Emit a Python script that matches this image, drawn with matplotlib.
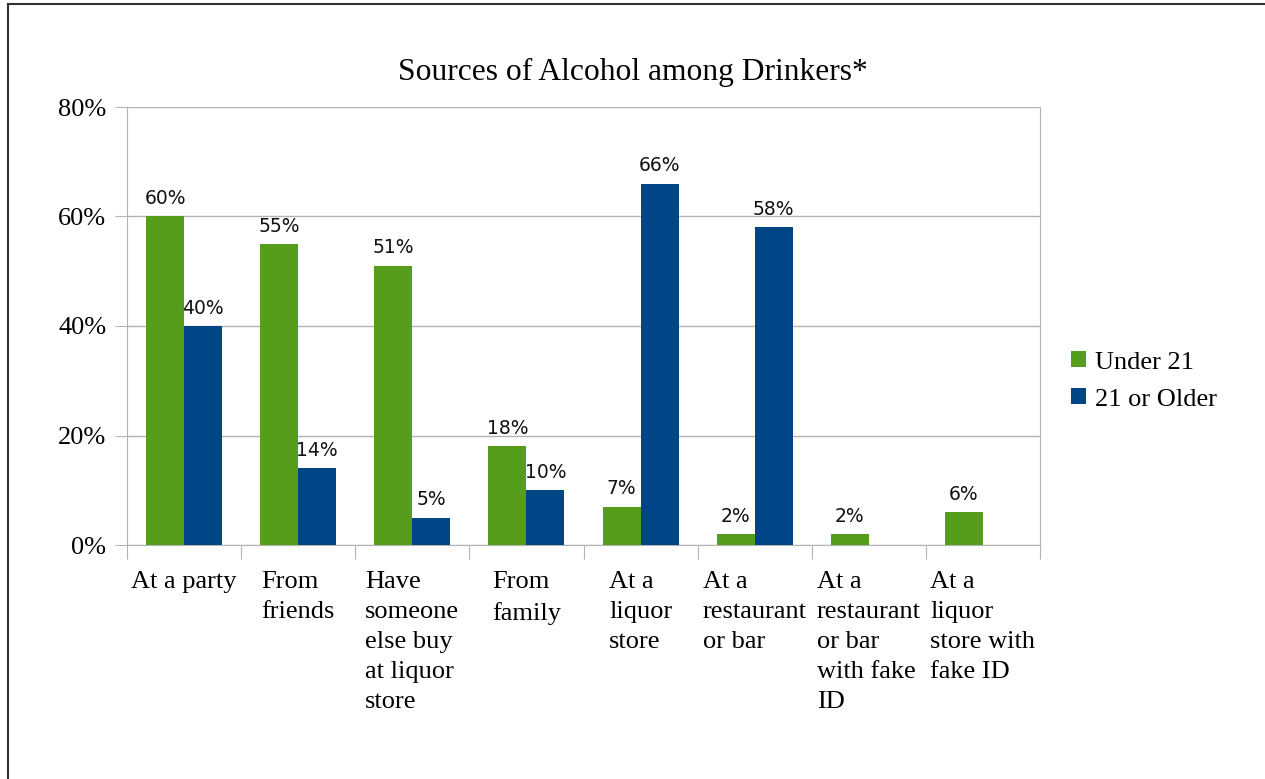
import numpy as np
import matplotlib.pyplot as plt
from matplotlib.lines import Line2D

# Данные
categories = ['At a party', 'From\nfriends', 'Have\nsomeone\nelse buy\nat liquor\nstore',
              'From\nfamily', 'At a\nliquor\nstore', 'At a\nrestaurant\nor bar',
              'At a\nrestaurant\nor bar\nwith fake\nID', 'At a\nliquor\nstore with\nfake ID']
under_21 = [60, 55, 51, 18, 7, 2, 2, 6]
older_21 = [40, 14, 5, 10, 66, 58, None, None]
series_names = ['Under 21', '21 or Older']
colors = ['#579d1c', '#004586']

W, H = 1265, 779
fig = plt.figure(figsize=(W / 100, H / 100), dpi=100)
ax = fig.add_axes([127 / W, 1 - 545 / H, (1040 - 127) / W, (545 - 107) / H])

serif = 'Liberation Serif'
x = np.arange(len(categories))
bw = 1 / 3

for j, (vals, name) in enumerate(zip([under_21, older_21], series_names)):
    xs = [xi - bw / 2 + j * bw for xi, v in zip(x, vals) if v is not None]
    vs = [v for v in vals if v is not None]
    ax.bar(xs, vs, width=bw, color=colors[j], label=name, zorder=3)
    for xi, v in zip(xs, vs):
        ax.annotate(f'{v}%', (xi, v), xytext=(0, 6), textcoords='offset points',
                    ha='center', va='bottom', fontsize=13.5, family='DejaVu Sans',
                    color='#111111')

ax.set_xlim(-0.5, len(categories) - 0.5)
ax.set_ylim(0, 80)
ax.set_yticks(range(0, 81, 20))
ax.set_yticklabels([f'{v}%' for v in range(0, 81, 20)], family=serif, fontsize=19)
ax.yaxis.grid(True, color='#b3b3b3', linewidth=1, zorder=0)
ax.tick_params(axis='y', length=9, color='#b3b3b3', pad=6)

# тики между категориями
ax.set_xticks(np.arange(-0.5, len(categories)), minor=False)
ax.set_xticklabels([])
ax.tick_params(axis='x', length=10, color='#b3b3b3')
for xi, lab in zip(x, categories):
    ax.text(xi, -0.06, lab, transform=ax.get_xaxis_transform(), ha='center', va='top',
            multialignment='left', fontsize=19, family=serif, linespacing=1.47)

for s in ['left', 'bottom', 'right']:
    ax.spines[s].set_color('#b3b3b3')
ax.spines['top'].set_visible(False)

fig.text(0.5, 1 - 72 / H, 'Sources of Alcohol among Drinkers*', ha='center', va='center',
         fontsize=22.7, family=serif)

leg = fig.legend(loc='center left', bbox_to_anchor=(1066 / W, 1 - 381 / H), frameon=False,
                 prop={'family': serif, 'size': 19}, handlelength=0.55, handleheight=0.55,
                 handletextpad=0.35, labelspacing=0.55, borderaxespad=0, borderpad=0.2)

# рамка
fig.add_artist(Line2D([8 / W, 8 / W], [0, 1 - 4 / H], color='#333333', linewidth=1.5))
fig.add_artist(Line2D([8 / W, 1], [1 - 4 / H, 1 - 4 / H], color='#333333', linewidth=1.5))

fig.savefig('out.png', dpi=100)
